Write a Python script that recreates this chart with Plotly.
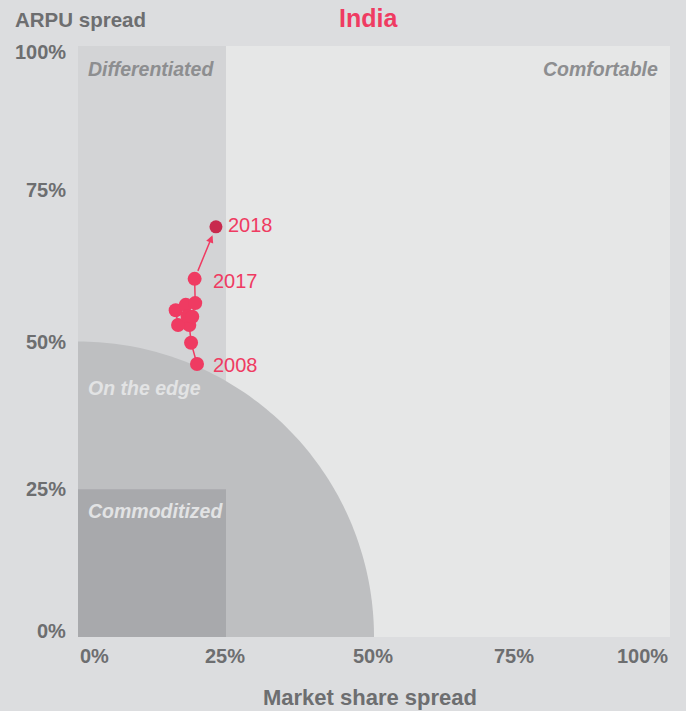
import numpy as np
import plotly.graph_objects as go

years = [2008, 2009, 2010, 2011, 2012, 2013, 2014, 2015, 2016, 2017, 2018]
market_share_spread = [20.1, 19.1, 18.8, 16.9, 16.5, 18.2, 18.5, 19.3, 19.8, 19.7, 23.3]
arpu_spread = [46.2, 49.8, 52.8, 52.8, 55.3, 56.2, 54.3, 54.2, 56.5, 60.6, 69.4]
labelled_years = [2008, 2017, 2018]
x_ticks = [0, 25, 50, 75, 100]
y_ticks = [0, 25, 50, 75, 100]
tick_text = ["0%", "25%", "50%", "75%", "100%"]

PINK = "#ef3b62"
DARK = "#c8294d"
GREY = "#6d6e70"
FONT = "Liberation Sans"

fig = go.Figure()

t = np.linspace(0, np.pi / 2, 90)
pts = " ".join(f"L {50*np.cos(a):.3f},{50*np.sin(a):.3f}" for a in t)
circle_path = "M 0,0 " + pts + " Z"

shapes = [
    dict(type="rect", xref="x", yref="y", x0=0, x1=25, y0=0, y1=100,
         fillcolor="#d3d4d6", line_width=0, layer="below"),
    dict(type="path", xref="x", yref="y", path=circle_path,
         fillcolor="#bebfc1", line_width=0, layer="below"),
    dict(type="rect", xref="x", yref="y", x0=0, x1=25, y0=0, y1=25,
         fillcolor="#a8a9ac", line_width=0, layer="below"),
]

fig.add_trace(go.Scatter(
    x=market_share_spread[:-1], y=arpu_spread[:-1], mode="lines+markers",
    line=dict(color=PINK, width=1.5),
    marker=dict(size=14, color=PINK),
    hoverinfo="skip", showlegend=False, cliponaxis=False))
fig.add_trace(go.Scatter(
    x=[market_share_spread[-1]], y=[arpu_spread[-1]], mode="markers",
    marker=dict(size=13, color=DARK),
    hoverinfo="skip", showlegend=False, cliponaxis=False))

annotations = []
annotations.append(dict(
    x=market_share_spread[-1], y=arpu_spread[-1], xref="x", yref="y",
    ax=market_share_spread[-2], ay=arpu_spread[-2], axref="x", ayref="y",
    showarrow=True, arrowhead=2, arrowsize=1, arrowwidth=1.5,
    arrowcolor=PINK, standoff=9, startstandoff=7, text=""))

label_shift = {2008: (14, -1), 2017: (16, -2), 2018: (10, 2)}
for yr in labelled_years:
    i = years.index(yr)
    xs, ys = label_shift[yr]
    annotations.append(dict(
        x=market_share_spread[i], y=arpu_spread[i], xref="x", yref="y",
        text=str(yr), showarrow=False, xanchor="left", yanchor="middle",
        xshift=xs, yshift=ys,
        font=dict(family=FONT, size=20, color=PINK)))

region_font = dict(family=FONT, size=19.5)
annotations += [
    dict(x=0, y=100, xref="x", yref="y", text="<b><i>Differentiated</i></b>",
         showarrow=False, xanchor="left", yanchor="middle", xshift=8, yshift=-23,
         font=dict(region_font, color="#8d8e90")),
    dict(x=100, y=100, xref="x", yref="y", text="<b><i>Comfortable</i></b>",
         showarrow=False, xanchor="right", yanchor="middle", xshift=-10, yshift=-23,
         font=dict(region_font, color="#8d8e90")),
    dict(x=0, y=50, xref="x", yref="y", text="<b><i>On the edge</i></b>",
         showarrow=False, xanchor="left", yanchor="middle", xshift=8, yshift=-46.5,
         font=dict(region_font, color="#e2e3e4")),
    dict(x=0, y=25, xref="x", yref="y", text="<b><i>Commoditized</i></b>",
         showarrow=False, xanchor="left", yanchor="middle", xshift=8, yshift=-21.5,
         font=dict(region_font, color="#e2e3e4")),
]

tick_font = dict(family=FONT, size=20, color=GREY)
x_anchor = ["left", "center", "center", "center", "right"]
x_shift = [0, -1, -1, -8, 0]
for v, lab, anc, sh in zip(x_ticks, tick_text, x_anchor, x_shift):
    annotations.append(dict(x=v, y=0, xref="x", yref="y", text=f"<b>{lab}</b>",
                            showarrow=False, xanchor=anc, yanchor="middle",
                            xshift=sh, yshift=-19, font=tick_font))
y_shift = [6, 0, 0, 4, -6]
for v, lab, sh in zip(y_ticks, tick_text, y_shift):
    annotations.append(dict(x=0, y=v, xref="x", yref="y", text=f"<b>{lab}</b>",
                            showarrow=False, xanchor="right", yanchor="middle",
                            xshift=-10, yshift=sh, font=tick_font))

annotations += [
    dict(x=0, y=1, xref="paper", yref="paper", text="<b>ARPU spread</b>",
         showarrow=False, xanchor="left", yanchor="middle", xshift=-65, yshift=27,
         font=dict(family=FONT, size=20.5, color=GREY)),
    dict(x=0.5, y=0, xref="paper", yref="paper", text="<b>Market share spread</b>",
         showarrow=False, xanchor="center", yanchor="middle", xshift=-4, yshift=-60,
         font=dict(family=FONT, size=22, color=GREY)),
    dict(x=0.5, y=1, xref="paper", yref="paper", text="<b>India</b>",
         showarrow=False, xanchor="center", yanchor="middle", xshift=-6, yshift=28,
         font=dict(family=FONT, size=25, color=PINK)),
]

fig.update_layout(
    width=686, height=711,
    margin=dict(l=78, r=16, t=46, b=73.5),
    paper_bgcolor="#dcdddf", plot_bgcolor="#e6e7e7",
    xaxis=dict(range=[0, 100], showgrid=False, zeroline=False, showticklabels=False,
               fixedrange=True, showline=False),
    yaxis=dict(range=[0, 100], showgrid=False, zeroline=False, showticklabels=False,
               fixedrange=True, showline=False),
    shapes=shapes, annotations=annotations,
    font=dict(family=FONT),
)

fig.write_html("out.html", config={"displayModeBar": False},
               post_script="document.body.style.margin='0px';document.body.style.overflow='hidden';")
